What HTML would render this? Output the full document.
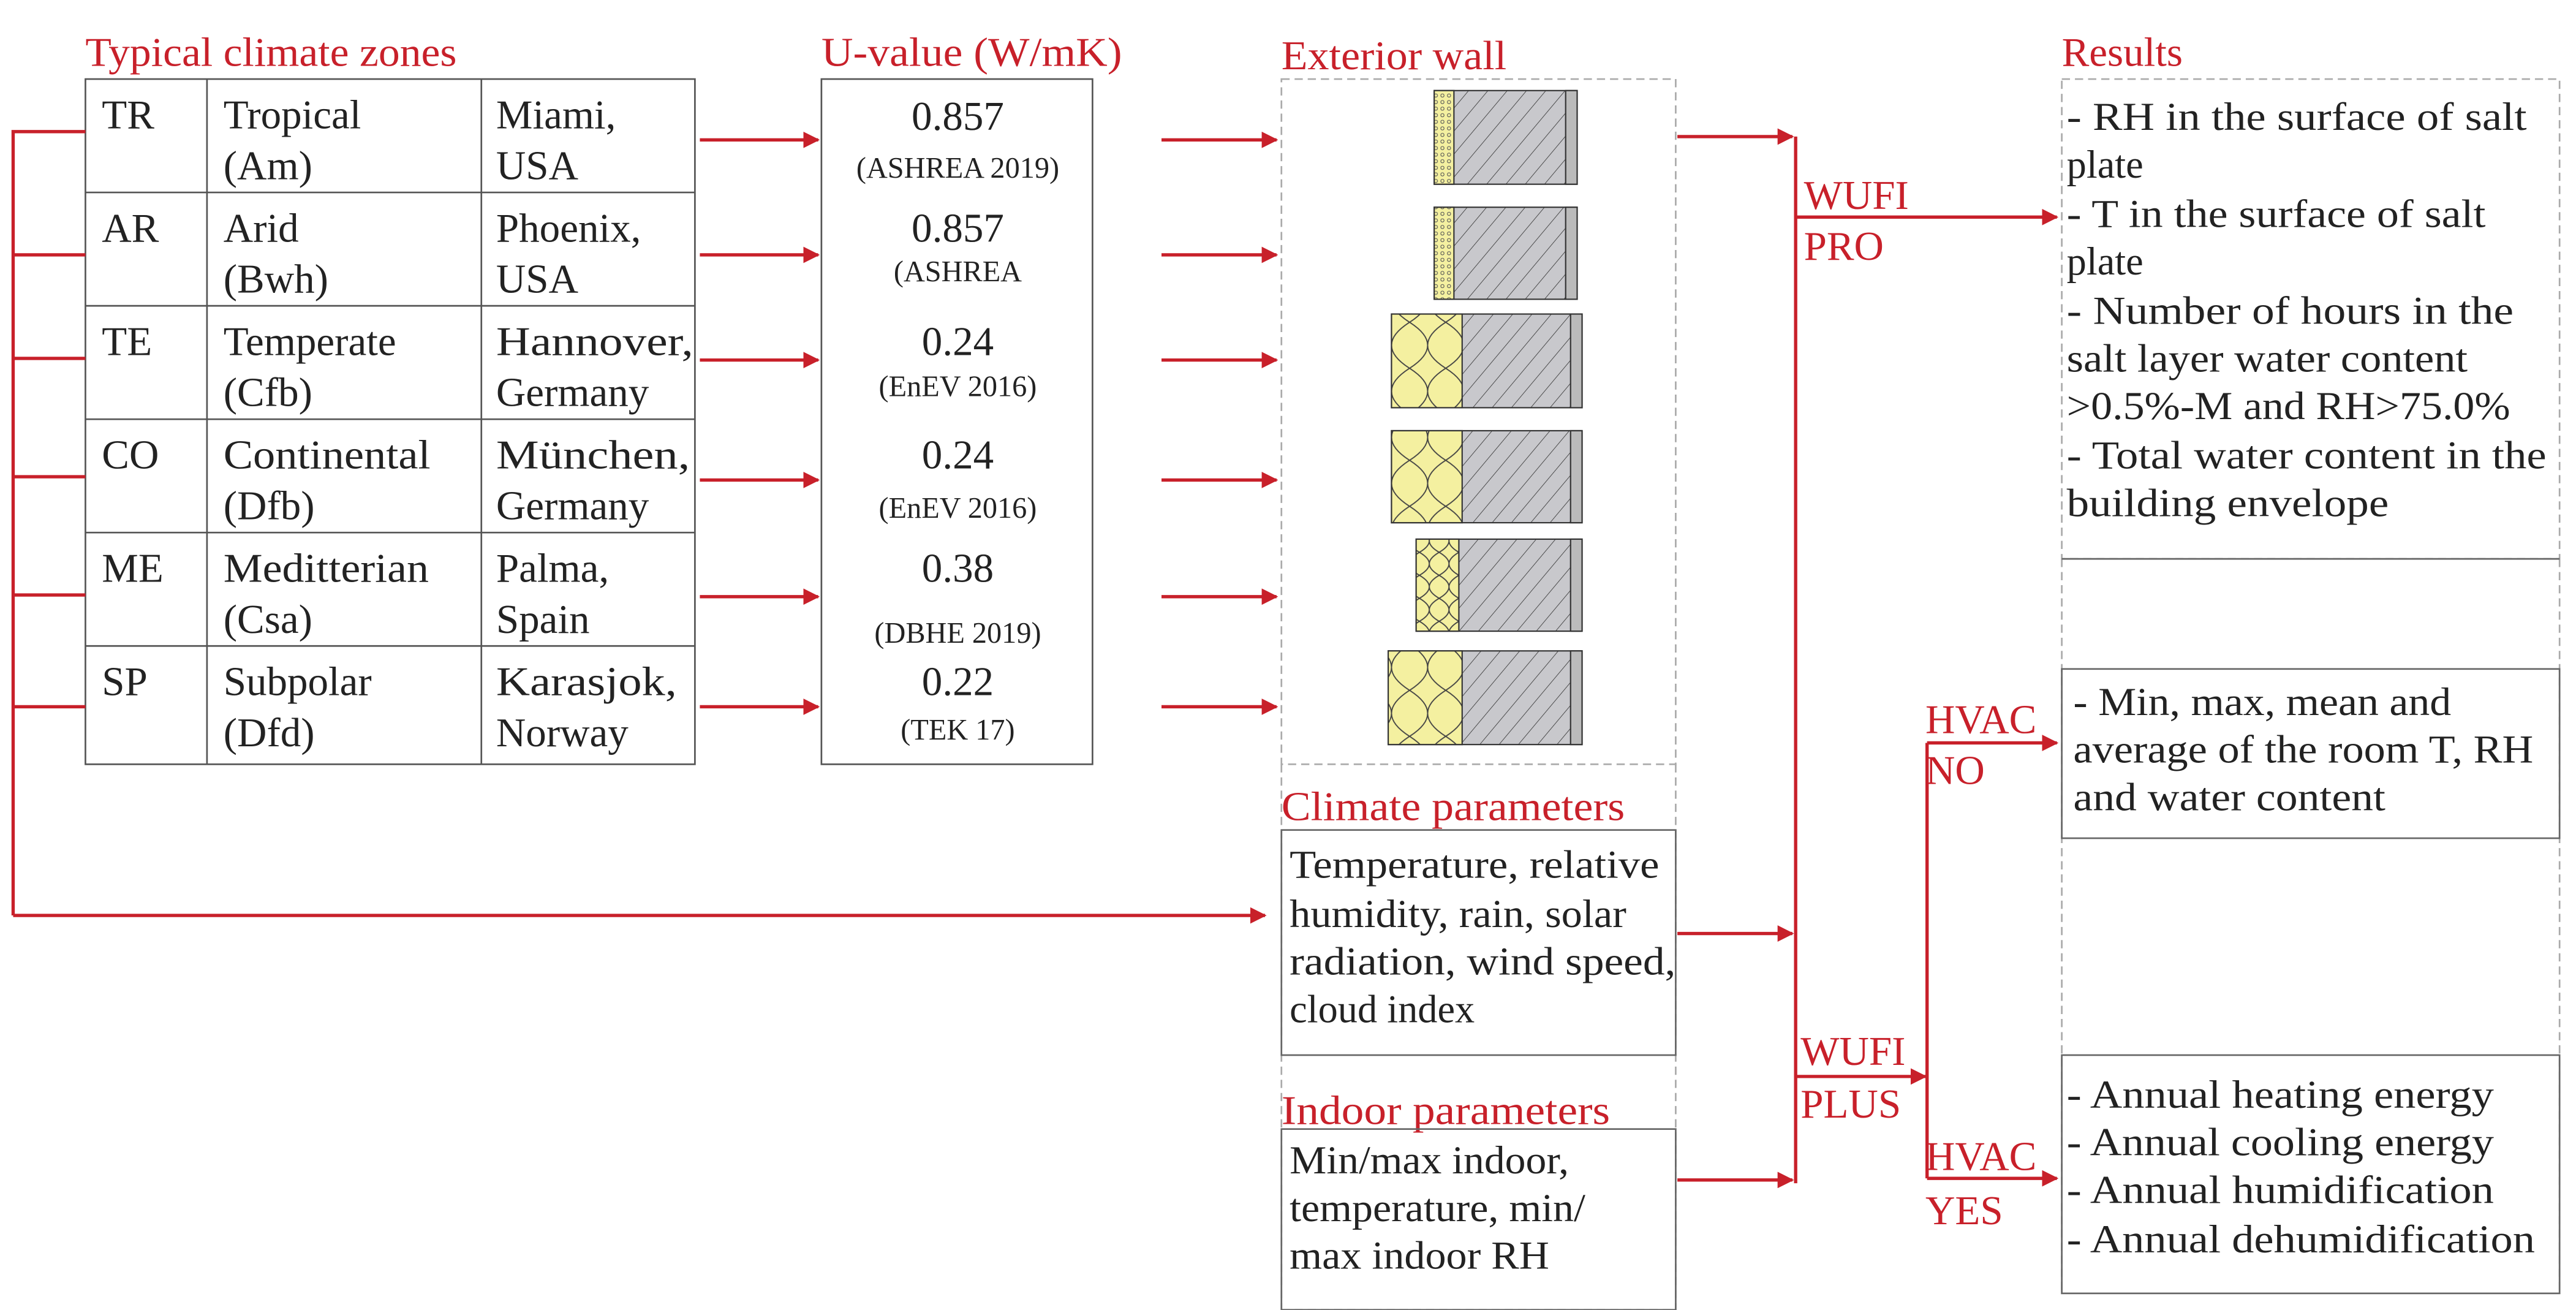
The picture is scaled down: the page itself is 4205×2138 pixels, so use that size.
<!DOCTYPE html>
<html><head><meta charset="utf-8"><style>html,body{margin:0;padding:0;background:#fff}svg{display:block}</style></head>
<body>
<svg width="4205" height="2138" viewBox="0 0 1568 797" xmlns="http://www.w3.org/2000/svg" font-family="Liberation Serif, serif">
<defs>
<marker id="a" markerWidth="10" markerHeight="10" refX="9" refY="5" orient="auto" markerUnits="userSpaceOnUse"><path d="M0,0 L10,5 L0,10 z" fill="#c8202a"/></marker>
<pattern id="h" width="9" height="9" patternUnits="userSpaceOnUse" patternTransform="rotate(40)"><rect width="9" height="9" fill="#c8c8cc"/><line x1="0" y1="0" x2="0" y2="9" stroke="#444" stroke-width="0.7"/></pattern>
<pattern id="y" width="22" height="28" patternUnits="userSpaceOnUse"><rect width="22" height="28" fill="#f4f0a0"/><path d="M0,0 Q22,14 0,28 M22,0 Q0,14 22,28" stroke="#444" stroke-width="0.7" fill="none"/></pattern>
<pattern id="ys" width="12" height="14" patternUnits="userSpaceOnUse"><rect width="12" height="14" fill="#f4f0a0"/><path d="M0,0 Q12,7 0,14 M12,0 Q0,7 12,14" stroke="#444" stroke-width="0.7" fill="none"/></pattern>
<pattern id="yd" width="4" height="4" patternUnits="userSpaceOnUse"><rect width="4" height="4" fill="#f4f0a0"/><circle cx="2" cy="2" r="1" fill="none" stroke="#555" stroke-width="0.4"/></pattern>
</defs>
<g fill="#c8202a" font-size="25">
<text x="52" y="40" textLength="226" lengthAdjust="spacingAndGlyphs">Typical climate zones</text>
<text x="500" y="40" textLength="183" lengthAdjust="spacingAndGlyphs">U-value (W/mK)</text>
<text x="780" y="42" textLength="137" lengthAdjust="spacingAndGlyphs">Exterior wall</text>
<text x="1255" y="40">Results</text>
<text x="780" y="499" textLength="209" lengthAdjust="spacingAndGlyphs">Climate parameters</text>
<text x="780" y="684" textLength="200" lengthAdjust="spacingAndGlyphs">Indoor parameters</text>
<text x="1098" y="127">WUFI</text><text x="1098" y="158">PRO</text>
<text x="1096" y="648">WUFI</text><text x="1096" y="680">PLUS</text>
<text x="1172" y="446">HVAC</text><text x="1172" y="477">NO</text>
<text x="1172" y="712">HVAC</text><text x="1172" y="745">YES</text>
</g>
<g stroke="#555" stroke-width="1" fill="none">
<rect x="52" y="48" width="371" height="417"/>
<line x1="126" y1="48" x2="126" y2="465"/><line x1="293" y1="48" x2="293" y2="465"/>
<line x1="52" y1="117" x2="423" y2="117"/><line x1="52" y1="186" x2="423" y2="186"/><line x1="52" y1="255" x2="423" y2="255"/><line x1="52" y1="324" x2="423" y2="324"/><line x1="52" y1="393" x2="423" y2="393"/>
<rect x="500" y="48" width="165" height="417"/>
</g>
<g font-size="25" fill="#222">
<text x="62" y="78">TR</text><text x="136" y="78">Tropical</text><text x="136" y="109">(Am)</text><text x="302" y="78">Miami,</text><text x="302" y="109">USA</text>
<text x="62" y="147">AR</text><text x="136" y="147">Arid</text><text x="136" y="178">(Bwh)</text><text x="302" y="147">Phoenix,</text><text x="302" y="178">USA</text>
<text x="62" y="216">TE</text><text x="136" y="216">Temperate</text><text x="136" y="247">(Cfb)</text><text x="302" y="216" textLength="120" lengthAdjust="spacingAndGlyphs">Hannover,</text><text x="302" y="247">Germany</text>
<text x="62" y="285">CO</text><text x="136" y="285" textLength="126" lengthAdjust="spacingAndGlyphs">Continental</text><text x="136" y="316">(Dfb)</text><text x="302" y="285" textLength="118" lengthAdjust="spacingAndGlyphs">München,</text><text x="302" y="316">Germany</text>
<text x="62" y="354">ME</text><text x="136" y="354" textLength="125" lengthAdjust="spacingAndGlyphs">Meditterian</text><text x="136" y="385">(Csa)</text><text x="302" y="354">Palma,</text><text x="302" y="385">Spain</text>
<text x="62" y="423">SP</text><text x="136" y="423">Subpolar</text><text x="136" y="454">(Dfd)</text><text x="302" y="423" textLength="110" lengthAdjust="spacingAndGlyphs">Karasjok,</text><text x="302" y="454">Norway</text>
</g>
<g fill="#222" text-anchor="middle">
<g font-size="25"><text x="583" y="79">0.857</text><text x="583" y="147">0.857</text><text x="583" y="216">0.24</text><text x="583" y="285">0.24</text><text x="583" y="354">0.38</text><text x="583" y="423">0.22</text></g>
<g font-size="18"><text x="583" y="108">(ASHREA 2019)</text><text x="583" y="171">(ASHREA</text><text x="583" y="241">(EnEV 2016)</text><text x="583" y="315">(EnEV 2016)</text><text x="583" y="391">(DBHE 2019)</text><text x="583" y="450">(TEK 17)</text></g>
</g>
<g stroke="#aaa" stroke-width="1" fill="none" stroke-dasharray="5,3">
<rect x="780" y="48" width="240" height="417"/>
<line x1="780" y1="465" x2="780" y2="797"/><line x1="1020" y1="465" x2="1020" y2="797"/>
<line x1="780" y1="797" x2="1020" y2="797"/>
<rect x="1255" y="48" width="303" height="292"/>
<line x1="1255" y1="340" x2="1255" y2="787"/><line x1="1558" y1="340" x2="1558" y2="787"/>
</g>
<g stroke="#666" stroke-width="1" fill="none">
<rect x="780" y="505" width="240" height="137"/>
<rect x="780" y="687" width="240" height="110"/>
<rect x="1255" y="407" width="303" height="103"/>
<rect x="1255" y="642" width="303" height="145"/>
<line x1="1255" y1="340" x2="1558" y2="340"/>
</g>
<g stroke="#333" stroke-width="0.8">
<rect x="873" y="55" width="87" height="57" fill="url(#h)"/><rect x="873" y="55" width="12" height="57" fill="url(#yd)"/><rect x="953" y="55" width="7" height="57" fill="#bbb"/>
<rect x="873" y="126" width="87" height="56" fill="url(#h)"/><rect x="873" y="126" width="12" height="56" fill="url(#yd)"/><rect x="953" y="126" width="7" height="56" fill="#bbb"/>
<rect x="847" y="191" width="116" height="57" fill="url(#h)"/><rect x="847" y="191" width="43" height="57" fill="url(#y)"/><rect x="956" y="191" width="7" height="57" fill="#bbb"/>
<rect x="847" y="262" width="116" height="56" fill="url(#h)"/><rect x="847" y="262" width="43" height="56" fill="url(#y)"/><rect x="956" y="262" width="7" height="56" fill="#bbb"/>
<rect x="862" y="328" width="101" height="56" fill="url(#h)"/><rect x="862" y="328" width="26" height="56" fill="url(#ys)"/><rect x="956" y="328" width="7" height="56" fill="#bbb"/>
<rect x="845" y="396" width="118" height="57" fill="url(#h)"/><rect x="845" y="396" width="45" height="57" fill="url(#y)"/><rect x="956" y="396" width="7" height="57" fill="#bbb"/>
</g>
<g font-size="24" fill="#222">
<text x="785" y="534" textLength="225" lengthAdjust="spacingAndGlyphs">Temperature, relative</text><text x="785" y="564" textLength="205" lengthAdjust="spacingAndGlyphs">humidity, rain, solar</text><text x="785" y="593" textLength="235" lengthAdjust="spacingAndGlyphs">radiation, wind speed,</text><text x="785" y="622">cloud index</text>
<text x="785" y="714" textLength="170" lengthAdjust="spacingAndGlyphs">Min/max indoor,</text><text x="785" y="743" textLength="180" lengthAdjust="spacingAndGlyphs">temperature, min/</text><text x="785" y="772" textLength="158" lengthAdjust="spacingAndGlyphs">max indoor RH</text>
<text x="1258" y="79" textLength="280" lengthAdjust="spacingAndGlyphs">- RH in the surface of salt</text><text x="1258" y="108">plate</text><text x="1258" y="138" textLength="255" lengthAdjust="spacingAndGlyphs">- T in the surface of salt</text><text x="1258" y="167">plate</text><text x="1258" y="197" textLength="272" lengthAdjust="spacingAndGlyphs">- Number of hours in the</text><text x="1258" y="226" textLength="244" lengthAdjust="spacingAndGlyphs">salt layer water content</text><text x="1258" y="255" textLength="270" lengthAdjust="spacingAndGlyphs">&gt;0.5%-M and RH&gt;75.0%</text><text x="1258" y="285" textLength="292" lengthAdjust="spacingAndGlyphs">- Total water content in the</text><text x="1258" y="314" textLength="196" lengthAdjust="spacingAndGlyphs">building envelope</text>
<text x="1262" y="435" textLength="230" lengthAdjust="spacingAndGlyphs">- Min, max, mean and</text><text x="1262" y="464" textLength="280" lengthAdjust="spacingAndGlyphs">average of the room T, RH</text><text x="1262" y="493" textLength="190" lengthAdjust="spacingAndGlyphs">and water content</text>
<text x="1258" y="674" textLength="260" lengthAdjust="spacingAndGlyphs">- Annual heating energy</text><text x="1258" y="703" textLength="260" lengthAdjust="spacingAndGlyphs">- Annual cooling energy</text><text x="1258" y="732" textLength="260" lengthAdjust="spacingAndGlyphs">- Annual humidification</text><text x="1258" y="762" textLength="285" lengthAdjust="spacingAndGlyphs">- Annual dehumidification</text>
</g>
<g stroke="#c8202a" stroke-width="2" fill="none">
<polyline points="52,80 8,80 8,557"/>
<line x1="8" y1="155" x2="52" y2="155"/><line x1="8" y1="218" x2="52" y2="218"/><line x1="8" y1="290" x2="52" y2="290"/><line x1="8" y1="362" x2="52" y2="362"/><line x1="8" y1="430" x2="52" y2="430"/>
<line x1="8" y1="557" x2="770" y2="557" marker-end="url(#a)"/>
<line x1="426" y1="85" x2="498" y2="85" marker-end="url(#a)"/><line x1="426" y1="155" x2="498" y2="155" marker-end="url(#a)"/><line x1="426" y1="219" x2="498" y2="219" marker-end="url(#a)"/><line x1="426" y1="292" x2="498" y2="292" marker-end="url(#a)"/><line x1="426" y1="363" x2="498" y2="363" marker-end="url(#a)"/><line x1="426" y1="430" x2="498" y2="430" marker-end="url(#a)"/>
<line x1="707" y1="85" x2="777" y2="85" marker-end="url(#a)"/><line x1="707" y1="155" x2="777" y2="155" marker-end="url(#a)"/><line x1="707" y1="219" x2="777" y2="219" marker-end="url(#a)"/><line x1="707" y1="292" x2="777" y2="292" marker-end="url(#a)"/><line x1="707" y1="363" x2="777" y2="363" marker-end="url(#a)"/><line x1="707" y1="430" x2="777" y2="430" marker-end="url(#a)"/>
<line x1="1021" y1="83" x2="1091" y2="83" marker-end="url(#a)"/><line x1="1021" y1="568" x2="1091" y2="568" marker-end="url(#a)"/><line x1="1021" y1="718" x2="1091" y2="718" marker-end="url(#a)"/>
<line x1="1093" y1="83" x2="1093" y2="720"/>
<line x1="1093" y1="132" x2="1252" y2="132" marker-end="url(#a)"/>
<line x1="1093" y1="655" x2="1172" y2="655" marker-end="url(#a)"/>
<line x1="1173" y1="452" x2="1173" y2="717"/>
<line x1="1173" y1="452" x2="1252" y2="452" marker-end="url(#a)"/><line x1="1173" y1="717" x2="1252" y2="717" marker-end="url(#a)"/>
</g>
</svg>
</body></html>
